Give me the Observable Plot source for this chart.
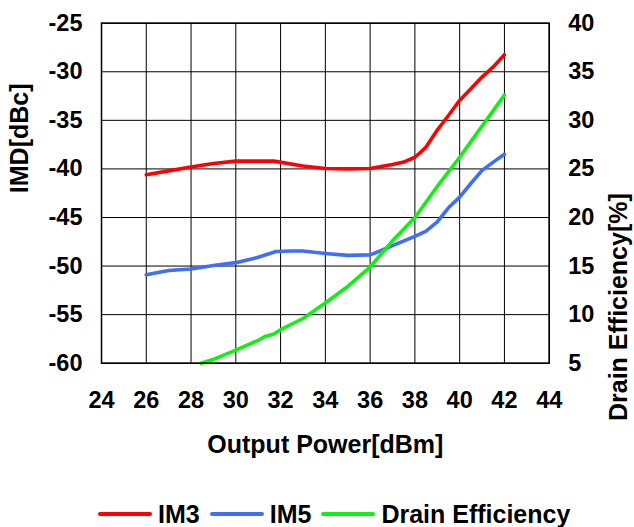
<!DOCTYPE html>
<html>
<head>
<meta charset="utf-8">
<script src="https://cdn.jsdelivr.net/npm/d3@7"></script>
<script src="https://cdn.jsdelivr.net/npm/@observablehq/plot@0.6"></script>
<style>
  html, body { margin: 0; padding: 0; background: #fff; overflow: hidden; }
  #wrap { position: relative; width: 634px; height: 527px; font-family: "Liberation Sans", Arial, sans-serif; }
  #legend { position: absolute; left: 98px; top: 500px; height: 28px; display: flex; align-items: center;
            font-size: 25px; font-weight: bold; color: #000; white-space: nowrap; }
  #legend .sw { display: inline-block; width: 54px; height: 4px; border-radius: 2px; margin-right: 6px; }
  #legend .lb { margin-right: 10px; }
</style>
</head>
<body>
<div id="wrap"><div id="chart"></div><div id="legend"></div></div>
<script>
// Tick values
const xTicks = [24, 26, 28, 30, 32, 34, 36, 38, 40, 42, 44];
const imdTicks = [-25, -30, -35, -40, -45, -50, -55, -60];
const effTicks = [40, 35, 30, 25, 20, 15, 10, 5];

// IM3 [dBc]
const im3Power = [26, 27, 28, 29, 30, 31, 31.7, 33, 34, 35, 36, 37, 37.5, 38, 38.25, 38.5, 39, 39.5, 40, 41, 41.5, 42];
const im3Value = [-40.6, -40.2, -39.8, -39.45, -39.2, -39.2, -39.2, -39.7, -39.95, -40, -39.95, -39.55, -39.3, -38.8, -38.3, -37.75, -36.0, -34.5, -32.95, -30.55, -29.5, -28.25];

// IM5 [dBc]
const im5Power = [26, 27, 28, 29, 30, 31, 31.8, 32.5, 33, 34, 35, 36, 36.5, 37, 38, 38.5, 39, 39.5, 40, 40.5, 41, 41.5, 42];
const im5Value = [-50.9, -50.45, -50.3, -49.95, -49.65, -49.1, -48.5, -48.45, -48.45, -48.7, -48.9, -48.85, -48.4, -47.9, -46.95, -46.4, -45.45, -44.0, -42.9, -41.5, -40.15, -39.3, -38.5];

// Drain Efficiency [%]
const effPower = [28.45, 29, 30, 31, 31.3, 31.7, 32, 33, 34, 35, 36, 37, 38, 38.5, 39, 40, 41, 42];
const effValue = [5.0, 5.4, 6.35, 7.35, 7.75, 8.0, 8.45, 9.6, 11.2, 12.9, 14.9, 17.6, 20.0, 21.6, 23.2, 26.2, 29.4, 32.6];

const seriesNames = ["IM3", "IM5", "Drain Efficiency"];
const seriesColors = ["#ff0000", "#3f6ff5", "#12f012"];

// Right axis (efficiency) shares the left scale with an offset: 40% <-> -25 dBc
const effOffset = 65;

const im3 = im3Power.map((p, i) => ({p, v: im3Value[i]}));
const im5 = im5Power.map((p, i) => ({p, v: im5Value[i]}));
const eff = effPower.map((p, i) => ({p, v: effValue[i] - effOffset}));

const fontFamily = '"Liberation Sans", Arial, sans-serif';

const chart = Plot.plot({
  width: 634,
  height: 470,
  marginLeft: 101,
  marginRight: 85.3,
  marginTop: 22.7,
  marginBottom: 107.3,
  x: {domain: [24, 44]},
  y: {domain: [-60, -25]},
  style: {fontFamily, fontWeight: "bold", fontSize: "23.5px", color: "#000", background: "#fff"},
  marks: [
    Plot.gridX(xTicks, {stroke: "#000", strokeOpacity: 1, strokeWidth: 1}),
    Plot.gridY(imdTicks, {stroke: "#000", strokeOpacity: 1, strokeWidth: 1}),
    Plot.line(im3, {x: "p", y: "v", stroke: seriesColors[0], strokeWidth: 3.6}),
    Plot.line(im5, {x: "p", y: "v", stroke: seriesColors[1], strokeWidth: 3.6}),
    Plot.line(eff, {x: "p", y: "v", stroke: seriesColors[2], strokeWidth: 3.6}),
    Plot.frame({stroke: "#000", strokeWidth: 1.5}),
    Plot.axisX(xTicks, {tickSize: 0, tickPadding: 28, label: null, tickFormat: d => String(d)}),
    Plot.axisY(imdTicks, {anchor: "left", tickSize: 0, tickPadding: 19, label: null, tickFormat: d => String(d)}),
    Plot.axisY(effTicks.map(t => t - effOffset), {anchor: "right", tickSize: 0, tickPadding: 19, label: null, tickFormat: d => String(d + effOffset)}),
    Plot.text(["IMD[dBc]"], {frameAnchor: "left", dx: -82, rotate: -90, fontSize: 25, lineAnchor: "middle", text: d => d}),
    Plot.text(["Drain Efficiency[%]"], {frameAnchor: "right", dx: 70, rotate: -90, fontSize: 25, lineAnchor: "middle", text: d => d}),
    Plot.text(["Output Power[dBm]"], {frameAnchor: "bottom", dy: 90, fontSize: 25, lineAnchor: "bottom", text: d => d})
  ]
});
document.getElementById("chart").appendChild(chart);

const legend = document.getElementById("legend");
seriesNames.forEach((name, i) => {
  const sw = document.createElement("span");
  sw.className = "sw";
  sw.style.background = seriesColors[i];
  const lb = document.createElement("span");
  lb.className = "lb";
  lb.textContent = name;
  legend.appendChild(sw);
  legend.appendChild(lb);
});
</script>
</body>
</html>
